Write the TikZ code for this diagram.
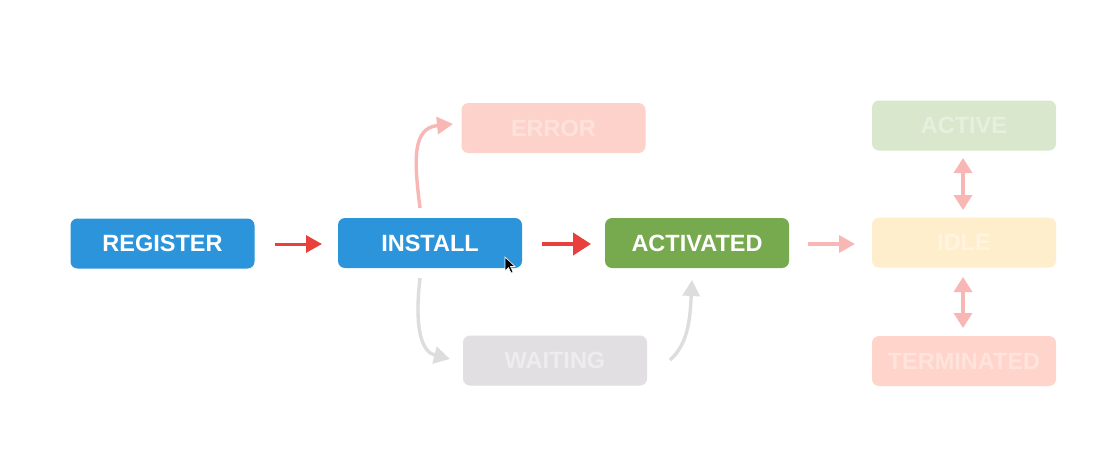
\documentclass[tikz,border=0pt]{standalone}
\usepackage{fontspec}
\setmainfont{Liberation Sans}
\usetikzlibrary{arrows.meta}
\definecolor{cblue}{HTML}{2B94DA}
\definecolor{cgreen}{HTML}{77A94F}
\definecolor{errfill}{HTML}{FDD2CA}
\definecolor{errtext}{HTML}{FDE2DC}
\definecolor{waitfill}{HTML}{E1DFE1}
\definecolor{waittext}{HTML}{EEEDEE}
\definecolor{actfill}{HTML}{D9E8CC}
\definecolor{acttext}{HTML}{E7F0DE}
\definecolor{idlefill}{HTML}{FFEECB}
\definecolor{idletext}{HTML}{FFF4DF}
\definecolor{termfill}{HTML}{FFD4CB}
\definecolor{termtext}{HTML}{FFE3DC}
\definecolor{cred}{HTML}{E8403A}
\definecolor{cpink}{HTML}{F8B6B4}
\definecolor{cgray}{HTML}{DEDDDE}
\tikzset{
  state/.style={rounded corners=7pt, minimum width=184pt, minimum height=50pt,
    inner sep=0pt, font=\fontsize{23.5}{27}\selectfont\bfseries},
  arr/.style={line width=3.4pt, -{Triangle[length=16pt,width=17pt]}},
  darr/.style={line width=3.4pt, {Triangle[length=15pt,width=18pt]}-{Triangle[length=15pt,width=18pt]}},
}
\begin{document}
\begin{tikzpicture}[x=1pt,y=-1pt]
\useasboundingbox (0,0) rectangle (1106,453);
\fill[white] (0,0) rectangle (1106,453);
\node[state, fill=cblue, text=white] (register) at (162.5,243.5) {REGISTER};
\node[state, fill=cblue, text=white] (install) at (430,243) {INSTALL};
\node[state, fill=cgreen, text=white] (activated) at (697,243) {ACTIVATED};
\node[state, fill=errfill, text=errtext] (error) at (553.5,128) {ERROR};
\node[state, fill=waitfill, text=waittext] (waiting) at (555,360.5) {WAITING};
\node[state, fill=actfill, text=acttext] (active) at (964,125.5) {ACTIVE};
\node[state, fill=idlefill, text=idletext] (idle) at (964,242.5) {IDLE};
\node[state, fill=termfill, text=termtext] (term) at (964,361) {TERMINATED};
% arrows
\coordinate (r1) at (275,244); \coordinate (r2) at (322,244);
\draw[arr, cred, line width=3pt] (r1) -- (r2);
\coordinate (i1) at (542,244); \coordinate (i2) at (591,244);
\draw[arr, cred, line width=4pt, -{Triangle[length=18pt,width=22pt]}] (i1) -- (i2);
\coordinate (a1) at (808,244); \coordinate (a2) at (855,244);
\draw[arr, cpink] (a1) -- (a2);
\coordinate (e1) at (420,208); \coordinate (e2) at (453,124);
\draw[arr, cpink] (e1) .. controls (414,160) and (412,128) .. (e2);
\coordinate (w1) at (420,278); \coordinate (w2) at (450,359);
\draw[arr, cgray] (w1) .. controls (414,330) and (422,352) .. (w2);
\coordinate (v1) at (670,360); \coordinate (v2) at (692,280);
\draw[arr, cgray] (v1) .. controls (688,344) and (690,320) .. (v2);
\coordinate (d1) at (963,158); \coordinate (d2) at (963,210);
\draw[darr, cpink] (d1) -- (d2);
\coordinate (d3) at (963,277); \coordinate (d4) at (963,328);
\draw[darr, cpink] (d3) -- (d4);
% mouse cursor
\fill[black, draw=white, line width=0.6pt] (505,257) -- (505,271) -- (508.5,267.5) -- (511,273) -- (513,272) -- (510.5,266.5) -- (515,266.5) -- cycle;
\end{tikzpicture}
\end{document}
